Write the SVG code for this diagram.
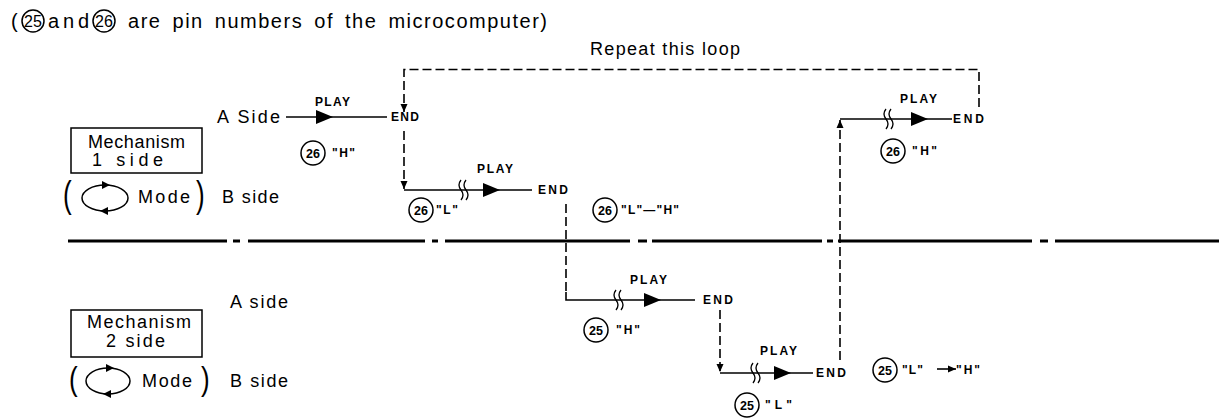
<svg xmlns="http://www.w3.org/2000/svg" width="1219" height="418" viewBox="0 0 1219 418">
<style>
.t{font-family:"Liberation Sans",Arial,sans-serif;fill:#000}
.b{font-size:18px}
.s{font-size:12px;font-weight:bold}
.n{font-size:12.5px;font-weight:bold;text-anchor:middle}
.pin{fill:none;stroke:#000;stroke-width:1.5}
.solid{fill:none;stroke:#000;stroke-width:1.6}
.dash{fill:none;stroke:#000;stroke-width:1.6;stroke-dasharray:9 4}
.sep{stroke:#000;stroke-width:3}
.box{fill:none;stroke:#000;stroke-width:1.5}
.par{font-family:"Liberation Sans",Arial,sans-serif;font-size:20px;fill:#000}
</style>
<defs>
<marker id="ah" markerWidth="8" markerHeight="8" refX="8" refY="4" orient="auto" markerUnits="userSpaceOnUse"><path d="M0,0.5 L8,4 L0,7.5 z" fill="#000"/></marker>
<path id="tri" d="M0,-7 L17,0 L0,7 z" fill="#000"/>
<path id="sq" d="M-3,-10 Q-7,-5 -3,0 Q1,5 -3,10 M2,-10 Q-2,-5 2,0 Q6,5 2,10" fill="none" stroke="#000" stroke-width="1.3"/>
<path id="ell-ah-r" d="M-4,-4 L4,0 L-4,4 z" fill="#000"/>
</defs>

<g id="title">
<text class="t" x="11" y="28" font-size="20">(</text>
<circle class="pin" cx="33" cy="21" r="11"/>
<text class="t" x="33" y="27" font-size="16" text-anchor="middle">25</text>
<text class="t" x="48" y="28" font-size="20" textLength="41" lengthAdjust="spacing">and</text>
<circle class="pin" cx="104" cy="21" r="11"/>
<text class="t" x="104" y="27" font-size="16" text-anchor="middle">26</text>
<text class="t" x="128" y="28" font-size="20" word-spacing="4" letter-spacing="1" textLength="420" lengthAdjust="spacing">are pin numbers of the microcomputer)</text>
</g>

<g id="repeat-label">
<text class="t b" x="590" y="55" textLength="150" lengthAdjust="spacing">Repeat this loop</text>
</g>

<g id="mechanism1">
<rect class="box" x="71" y="128" width="131" height="45"/>
<text class="t b" x="88" y="148" textLength="97" lengthAdjust="spacing">Mechanism</text>
<text class="t b" x="92" y="166" textLength="71" lengthAdjust="spacing">1 side</text>
<text class="par" transform="translate(63,207) scale(1.3,1.85)">(</text>
<ellipse class="pin" cx="105" cy="198" rx="23" ry="13"/>
<use href="#ell-ah-r" x="106" y="185"/>
<use href="#ell-ah-r" transform="translate(104,211) rotate(180)"/>
<text class="t b" x="138" y="203" textLength="52" lengthAdjust="spacing">Mode</text>
<text class="par" transform="translate(196,207) scale(1.3,1.85)">)</text>
<text class="t b" x="217" y="123" textLength="63" lengthAdjust="spacing">A Side</text>
<text class="t b" x="222" y="203" textLength="57" lengthAdjust="spacing">B side</text>
</g>

<g id="mechanism2">
<rect class="box" x="71" y="310" width="131" height="47"/>
<text class="t b" x="87" y="328" textLength="104" lengthAdjust="spacing">Mechanism</text>
<text class="t b" x="106" y="347" textLength="59" lengthAdjust="spacing">2 side</text>
<text class="par" transform="translate(69,390) scale(1.3,1.7)">(</text>
<ellipse class="pin" cx="108" cy="381" rx="22" ry="13"/>
<use href="#ell-ah-r" x="110" y="368"/>
<use href="#ell-ah-r" transform="translate(107,394) rotate(180)"/>
<text class="t b" x="142" y="387" textLength="50" lengthAdjust="spacing">Mode</text>
<text class="par" transform="translate(201,390) scale(1.3,1.7)">)</text>
<text class="t b" x="230" y="308" textLength="58" lengthAdjust="spacing">A side</text>
<text class="t b" x="230" y="387" textLength="58" lengthAdjust="spacing">B side</text>
</g>

<g id="separator">
<line class="sep" x1="68" y1="241" x2="227" y2="241"/>
<line class="sep" x1="233" y1="241" x2="240" y2="241"/>
<line class="sep" x1="248" y1="241" x2="425" y2="241"/>
<line class="sep" x1="432" y1="241" x2="438" y2="241"/>
<line class="sep" x1="445" y1="241" x2="630" y2="241"/>
<line class="sep" x1="638" y1="241" x2="647" y2="241"/>
<line class="sep" x1="652" y1="241" x2="822" y2="241"/>
<line class="sep" x1="827" y1="241" x2="833" y2="241"/>
<line class="sep" x1="838" y1="241" x2="1032" y2="241"/>
<line class="sep" x1="1040" y1="241" x2="1048" y2="241"/>
<line class="sep" x1="1055" y1="241" x2="1219" y2="241"/>
</g>

<g id="connectors">
<path class="dash" d="M979,107 V69.5 H404 V112" marker-end="url(#ah)"/>
<path class="dash" d="M404,131 V189" marker-end="url(#ah)"/>
<path class="dash" d="M566,204 V292"/>
<path class="dash" d="M720,310 V372" marker-end="url(#ah)"/>
<path class="dash" d="M840,360 V120" marker-end="url(#ah)"/>
</g>

<g id="play-1A">
<path class="solid" d="M286,117 H387"/>
<use href="#tri" x="316" y="117"/>
<text class="t s" x="315" y="106" textLength="35" lengthAdjust="spacing">PLAY</text>
<text class="t s" x="391" y="121" textLength="28" lengthAdjust="spacing">END</text>
</g>

<g id="play-1B">
<path class="solid" d="M404,190 H532"/>
<use href="#sq" x="464" y="190"/>
<use href="#tri" x="483" y="190"/>
<text class="t s" x="477" y="173" textLength="36" lengthAdjust="spacing">PLAY</text>
<text class="t s" x="538" y="194" textLength="30" lengthAdjust="spacing">END</text>
</g>

<g id="play-2A">
<path class="solid" d="M566,292 V300 H695"/>
<use href="#sq" x="619" y="300"/>
<use href="#tri" x="644" y="300"/>
<text class="t s" x="630" y="284" textLength="37" lengthAdjust="spacing">PLAY</text>
<text class="t s" x="703" y="304" textLength="30" lengthAdjust="spacing">END</text>
</g>

<g id="play-2B">
<path class="solid" d="M720,373 H813"/>
<use href="#sq" x="756" y="373"/>
<use href="#tri" x="774" y="373"/>
<text class="t s" x="760" y="355" textLength="37" lengthAdjust="spacing">PLAY</text>
<text class="t s" x="816" y="377" textLength="30" lengthAdjust="spacing">END</text>
</g>

<g id="play-1A-repeat">
<path class="solid" d="M840,119 H952"/>
<use href="#sq" x="889" y="119"/>
<use href="#tri" x="911" y="119"/>
<text class="t s" x="900" y="103" textLength="37" lengthAdjust="spacing">PLAY</text>
<text class="t s" x="953" y="123" textLength="31" lengthAdjust="spacing">END</text>
</g>

<g id="pin-26-H-1">
<circle class="pin" cx="313" cy="153" r="12"/>
<text class="t n" x="313" y="157.5">26</text>
<text class="t s" x="332" y="157" textLength="23" lengthAdjust="spacing">"H"</text>
</g>
<g id="pin-26-L">
<circle class="pin" cx="421" cy="210" r="12"/>
<text class="t n" x="421" y="214.5">26</text>
<text class="t s" x="436" y="214" textLength="22" lengthAdjust="spacing">"L"</text>
</g>
<g id="pin-26-LH">
<circle class="pin" cx="605" cy="210" r="12"/>
<text class="t n" x="605" y="214.5">26</text>
<text class="t s" x="621" y="214" textLength="58" lengthAdjust="spacing">"L"—"H"</text>
</g>
<g id="pin-25-H">
<circle class="pin" cx="596" cy="330" r="12"/>
<text class="t n" x="596" y="334.5">25</text>
<text class="t s" x="616" y="334" textLength="24" lengthAdjust="spacing">"H"</text>
</g>
<g id="pin-25-L">
<circle class="pin" cx="747" cy="405" r="12"/>
<text class="t n" x="747" y="409.5">25</text>
<text class="t s" x="765" y="409" textLength="27" lengthAdjust="spacing">"L"</text>
</g>
<g id="pin-26-H-2">
<circle class="pin" cx="893" cy="151" r="12"/>
<text class="t n" x="893" y="155.5">26</text>
<text class="t s" x="912" y="155" textLength="25" lengthAdjust="spacing">"H"</text>
</g>
<g id="pin-25-LH">
<circle class="pin" cx="885" cy="370" r="12"/>
<text class="t n" x="885" y="374.5">25</text>
<text class="t s" x="902" y="374" textLength="21" lengthAdjust="spacing">"L"</text>
<path class="solid" d="M937,369 H956" marker-end="url(#ah)"/>
<text class="t s" x="956" y="374" textLength="24" lengthAdjust="spacing">"H"</text>
</g>
</svg>
